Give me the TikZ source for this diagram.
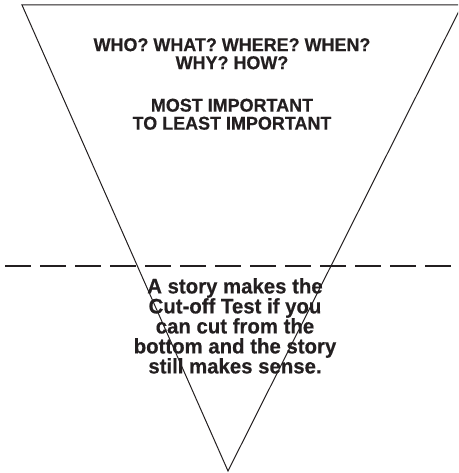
\documentclass[tikz,border=0pt]{standalone}
\usepackage{fontspec}
\setmainfont{Liberation Sans}
\newfontfamily\headfont[FakeStretch=0.97, FakeBold=0.5]{Liberation Sans}
\newfontfamily\notefont[FakeStretch=0.97, FakeBold=0.5]{Liberation Sans}
\usetikzlibrary{positioning}

\begin{document}
\begin{tikzpicture}[x=1pt, y=-1pt,
    every node/.style={inner sep=0pt, align=center, text=ink},
    headtext/.style={font=\headfont\bfseries\fontsize{18.5}{18}\selectfont},
    notetext/.style={font=\notefont\bfseries\fontsize{21}{20}\selectfont}]
  % Define colors
  \definecolor{ink}{RGB}{35,31,32}

  \useasboundingbox (0,0) rectangle (458,473);
  \clip (0,0) rectangle (458,473);

  % Inverted pyramid (right corner runs off the page)
  \coordinate (topL) at (22,5);
  \coordinate (topR) at (462,5);
  \coordinate (tip)  at (228,471);
  \draw[ink, line width=1pt] (topL) -- (topR) -- (tip) -- cycle;

  % Cut-off line
  \coordinate (cutL) at (5,266);
  \coordinate (cutR) at (458,266);
  \draw[ink, line width=2.7pt, dash pattern=on 26pt off 9pt] (cutL) -- (cutR);

  % Texts
  \node[headtext, anchor=north] (questions) at (232,38)
    {WHO? WHAT? WHERE? WHEN?\\WHY? HOW?};
  \node[headtext, below=29pt of questions] (order)
    {MOST IMPORTANT\\TO LEAST IMPORTANT};
  \node[notetext, anchor=north] (cutoff) at (235,278)
    {A story makes the\\Cut-off Test if you\\can cut from the\\bottom and the story\\still makes sense.};
\end{tikzpicture}
\end{document}
